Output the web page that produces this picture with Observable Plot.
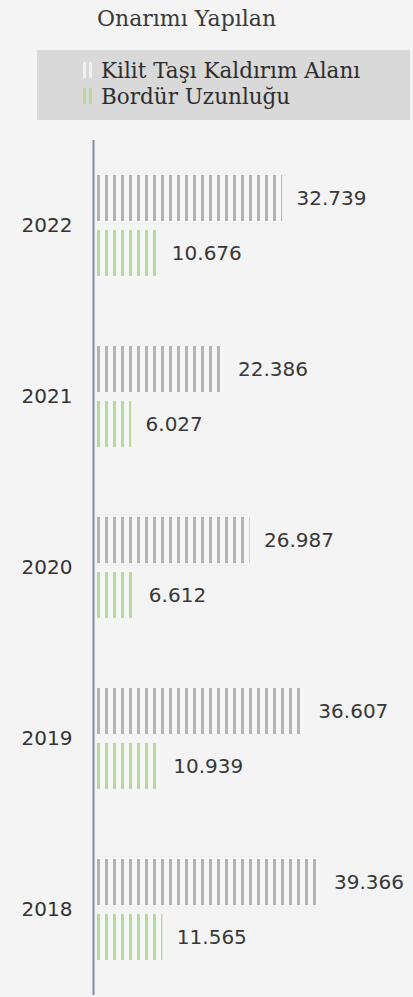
<!DOCTYPE html>
<html><head><meta charset="utf-8">
<script src="https://cdn.jsdelivr.net/npm/d3@7"></script>
<script src="https://cdn.jsdelivr.net/npm/@observablehq/plot@0.6"></script>
<style>
html,body{margin:0;padding:0;background:#f4f4f4;}
body{width:413px;height:997px;overflow:hidden;position:relative;font-family:"DejaVu Sans",sans-serif;}
#title{position:absolute;left:97px;top:6px;font:22px "DejaVu Serif",serif;color:#3a3a3a;white-space:nowrap;}
#legend{position:absolute;left:37px;top:50px;width:373px;height:70px;background:#d9d9d9;}
.item{position:absolute;left:46px;height:24px;display:flex;align-items:center;font:21.5px "DejaVu Serif",serif;color:#2e2e2e;white-space:nowrap;}
.sw{width:10px;height:16px;margin-right:8px;}
#chart{position:absolute;left:0;top:130px;}
</style></head>
<body>
<div id="title">Onarımı Yapılan</div>
<div id="legend"></div>
<div id="chart"></div>
<script>
const years = ["2022", "2021", "2020", "2019", "2018"];
const kilit = [32739, 22386, 26987, 36607, 39366];
const bordur = [10676, 6027, 6612, 10939, 11565];
const seriesNames = ["Kilit Taşı Kaldırım Alanı", "Bordür Uzunluğu"];
const seriesColors = ["#b3b3b3", "#b5da9a"];
const legendSwatch = ["#f2f2f2", "#b5da9a"];

const fmt = v => d3.format(",")(v).replace(/,/g, ".");

const data = [];
years.forEach((y, i) => {
  data.push({year: y, series: seriesNames[0], value: kilit[i]});
  data.push({year: y, series: seriesNames[1], value: bordur[i]});
});

// legend
const leg = document.getElementById("legend");
seriesNames.forEach((s, i) => {
  const it = document.createElement("div");
  it.className = "item";
  it.style.top = (8 + i * 26) + "px";
  const sw = document.createElement("div");
  sw.className = "sw";
  sw.style.background = `repeating-linear-gradient(90deg, ${legendSwatch[i]} 0 3px, #d9d9d9 3px 6px)`;
  it.appendChild(sw);
  it.appendChild(document.createTextNode(s));
  leg.appendChild(it);
});

const plot = Plot.plot({
  width: 413,
  height: 867,
  marginTop: 8,
  marginBottom: 0,
  marginLeft: 97,
  marginRight: 20,
  style: {background: "transparent", fontFamily: "DejaVu Sans", fontSize: "20px", color: "#333"},
  x: {domain: [0, 52380], axis: null},
  y: {domain: seriesNames, axis: null, paddingInner: 0.17, paddingOuter: 0.62},
  fy: {domain: years, padding: 0, label: null, tickSize: 0, tickPadding: 25, axis: "left"},
  marks: [
    Plot.barX(data.filter(d => d.series === seriesNames[0]), {x: "value", y: "series", fy: "year", fill: "url(#pat0)"}),
    Plot.barX(data.filter(d => d.series === seriesNames[1]), {x: "value", y: "series", fy: "year", fill: "url(#pat1)"}),
    Plot.text(data, {x: "value", y: "series", fy: "year", text: d => fmt(d.value), textAnchor: "start", dx: 14, fontSize: 20, fill: "#383838"}),
    Plot.ruleX([0], {stroke: "#7d8ea2", strokeWidth: 2, dx: -4})
  ]
});

// stripe patterns
const ns = "http://www.w3.org/2000/svg";
const defs = document.createElementNS(ns, "defs");
seriesColors.forEach((c, i) => {
  const p = document.createElementNS(ns, "pattern");
  p.setAttribute("id", "pat" + i);
  p.setAttribute("patternUnits", "userSpaceOnUse");
  p.setAttribute("width", "8");
  p.setAttribute("height", "10");
  const bg = document.createElementNS(ns, "rect");
  bg.setAttribute("width", "8"); bg.setAttribute("height", "10"); bg.setAttribute("fill", "#f6f6f6");
  const st = document.createElementNS(ns, "rect");
  st.setAttribute("x", "1"); st.setAttribute("width", "3"); st.setAttribute("height", "10"); st.setAttribute("fill", c);
  p.appendChild(bg); p.appendChild(st);
  defs.appendChild(p);
});
plot.insertBefore(defs, plot.firstChild);
document.getElementById("chart").appendChild(plot);
</script>
</body></html>
